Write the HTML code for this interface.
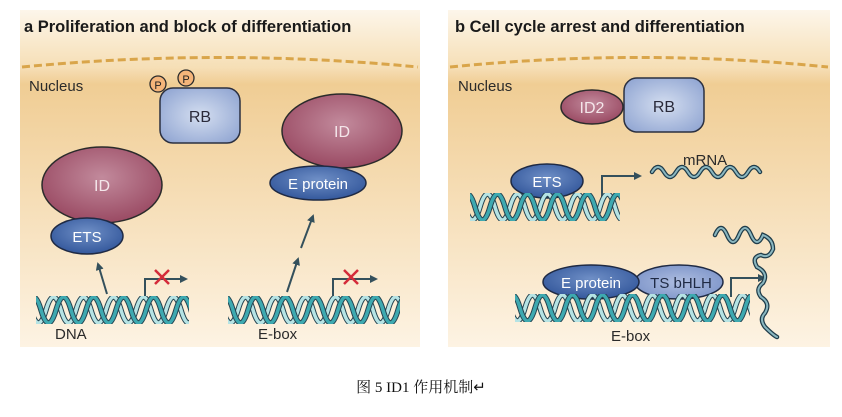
<!DOCTYPE html>
<html><head><meta charset="utf-8"><style>
body{margin:0;background:#fff;width:842px;height:417px;overflow:hidden}
svg{display:block}
.t{font-family:"Liberation Sans",sans-serif}
</style></head><body>
<svg width="842" height="417" viewBox="0 0 842 417" xmlns="http://www.w3.org/2000/svg">
<defs>
<linearGradient id="bg" x1="0" y1="0" x2="0" y2="1">
<stop offset="0" stop-color="#fdf6ea"/><stop offset="0.17" stop-color="#f6dfb6"/><stop offset="0.22" stop-color="#f0cd94"/><stop offset="1" stop-color="#fdf3e3"/>
</linearGradient>
<radialGradient id="id" cx="0.5" cy="0.4" r="0.6"><stop offset="0" stop-color="#c28a9c"/><stop offset="1" stop-color="#9a4a63"/></radialGradient>
<radialGradient id="bl" cx="0.5" cy="0.4" r="0.6"><stop offset="0" stop-color="#6f8fc6"/><stop offset="1" stop-color="#34589c"/></radialGradient>
<radialGradient id="rb" cx="0.5" cy="0.5" r="0.6"><stop offset="0" stop-color="#d4def0"/><stop offset="1" stop-color="#95a9d4"/></radialGradient>
<radialGradient id="ts" cx="0.5" cy="0.5" r="0.6"><stop offset="0" stop-color="#aebde0"/><stop offset="1" stop-color="#7b93c8"/></radialGradient>
<g id="helix">
<path d="M-20,12 q7.5,-26 15,0 t15,0 t15,0 t15,0 t15,0 t15,0 t15,0 t15,0 t15,0 t15,0 t15,0 t15,0 t15,0 t15,0 t15,0 t15,0 t15,0 t15,0" fill="none" stroke="#24424f" stroke-width="5.5"/>
<path d="M-20,12 q7.5,-26 15,0 t15,0 t15,0 t15,0 t15,0 t15,0 t15,0 t15,0 t15,0 t15,0 t15,0 t15,0 t15,0 t15,0 t15,0 t15,0 t15,0 t15,0" fill="none" stroke="#b5e3e4" stroke-width="3.5"/>
<path d="M-10,12 q7.5,-26 15,0 t15,0 t15,0 t15,0 t15,0 t15,0 t15,0 t15,0 t15,0 t15,0 t15,0 t15,0 t15,0 t15,0 t15,0 t15,0 t15,0 t15,0" fill="none" stroke="#24424f" stroke-width="5.5"/>
<path d="M-10,12 q7.5,-26 15,0 t15,0 t15,0 t15,0 t15,0 t15,0 t15,0 t15,0 t15,0 t15,0 t15,0 t15,0 t15,0 t15,0 t15,0 t15,0 t15,0 t15,0" fill="none" stroke="#3ea9b0" stroke-width="3.5"/>
</g>
<clipPath id="c1"><rect x="0" y="-2" width="153" height="28"/></clipPath>
<clipPath id="c2"><rect x="0" y="-2" width="172" height="28"/></clipPath>
<clipPath id="c3"><rect x="0" y="-2" width="150" height="28"/></clipPath>
<clipPath id="c4"><rect x="0" y="-2" width="235" height="28"/></clipPath>
<marker id="ar" markerWidth="8" markerHeight="8" refX="6" refY="4" orient="auto" markerUnits="userSpaceOnUse"><path d="M0,0 L8,4 L0,8 z" fill="#34505c"/></marker>
</defs>
<rect x="20" y="10" width="400" height="337" fill="url(#bg)"/>
<rect x="448" y="10" width="382" height="337" fill="url(#bg)"/>
<path d="M22,67 Q220,48 418,67" fill="none" stroke="#d9a54a" stroke-width="3" stroke-dasharray="8,4"/>
<path d="M450,67 Q640,48 828,67" fill="none" stroke="#d9a54a" stroke-width="3" stroke-dasharray="8,4"/>
<text x="24" y="32" class="t" font-size="16.5" font-weight="bold" fill="#1a1a1a">a  Proliferation and block of differentiation</text>
<text x="455" y="32" class="t" font-size="16.5" font-weight="bold" fill="#1a1a1a">b  Cell cycle arrest and differentiation</text>
<g class="t" font-size="15" fill="#2a2a2a">
<text x="29" y="91">Nucleus</text><text x="458" y="91">Nucleus</text>
<text x="55" y="339">DNA</text><text x="258" y="339">E-box</text><text x="611" y="341">E-box</text>
<text x="683" y="165">mRNA</text>
</g>
<rect x="160" y="88" width="80" height="55" rx="13" fill="url(#rb)" stroke="#2b3040" stroke-width="1.5"/>
<circle cx="158" cy="84" r="8" fill="#f5b57a" stroke="#2b2b2b" stroke-width="1.3"/>
<circle cx="186" cy="78" r="8" fill="#f5b57a" stroke="#2b2b2b" stroke-width="1.3"/>
<text x="158" y="89" class="t" font-size="11" text-anchor="middle" fill="#222">P</text>
<text x="186" y="83" class="t" font-size="11" text-anchor="middle" fill="#222">P</text>
<text x="200" y="122" class="t" font-size="16" text-anchor="middle" fill="#2a2a3a">RB</text>
<ellipse cx="342" cy="131" rx="60" ry="37" fill="url(#id)" stroke="#2b2b2b" stroke-width="1.5"/>
<text x="342" y="137" class="t" font-size="16" text-anchor="middle" fill="#f4e6ea">ID</text>
<ellipse cx="318" cy="183" rx="48" ry="17" fill="url(#bl)" stroke="#1f2a44" stroke-width="1.5"/>
<text x="318" y="189" class="t" font-size="15" text-anchor="middle" fill="#fff">E protein</text>
<ellipse cx="102" cy="185" rx="60" ry="38" fill="url(#id)" stroke="#2b2b2b" stroke-width="1.5"/>
<text x="102" y="191" class="t" font-size="16" text-anchor="middle" fill="#f4e6ea">ID</text>
<ellipse cx="87" cy="236" rx="36" ry="18" fill="url(#bl)" stroke="#1f2a44" stroke-width="1.5"/>
<text x="87" y="242" class="t" font-size="15" text-anchor="middle" fill="#fff">ETS</text>
<g stroke="#34505c" stroke-width="2" fill="none">
<line x1="107" y1="294" x2="98" y2="264" marker-end="url(#ar)"/>
<line x1="287" y1="292" x2="298" y2="259" marker-end="url(#ar)"/>
<line x1="301" y1="248" x2="313" y2="216" marker-end="url(#ar)"/>
<path d="M145,298 V279 H186" marker-end="url(#ar)"/>
<path d="M333,298 V279 H376" marker-end="url(#ar)"/>
<path d="M602,197 V176 H640" marker-end="url(#ar)"/>
<path d="M731,297 V278 H764" marker-end="url(#ar)"/>
</g>
<g stroke="#d42b3a" stroke-width="2.5"><path d="M155,270 l14,14 M169,270 l-14,14"/><path d="M344,270 l14,14 M358,270 l-14,14"/></g>
<use href="#helix" x="36" y="298" clip-path="url(#c1)"/>
<use href="#helix" x="228" y="298" clip-path="url(#c2)"/>
<ellipse cx="592" cy="107" rx="31" ry="17" fill="url(#id)" stroke="#2b2b2b" stroke-width="1.5"/>
<rect x="624" y="78" width="80" height="54" rx="13" fill="url(#rb)" stroke="#2b3040" stroke-width="1.5"/>
<text x="592" y="113" class="t" font-size="16" text-anchor="middle" fill="#f4e6ea">ID2</text>
<text x="664" y="112" class="t" font-size="16" text-anchor="middle" fill="#2a2a3a">RB</text>
<ellipse cx="547" cy="181" rx="36" ry="17" fill="url(#bl)" stroke="#1f2a44" stroke-width="1.5"/>
<text x="547" y="187" class="t" font-size="15" text-anchor="middle" fill="#fff">ETS</text>
<use href="#helix" x="470" y="195" clip-path="url(#c3)"/>
<ellipse cx="679" cy="282" rx="44" ry="17" fill="url(#ts)" stroke="#1f2a44" stroke-width="1.5"/>
<ellipse cx="591" cy="282" rx="48" ry="17" fill="url(#bl)" stroke="#1f2a44" stroke-width="1.5"/>
<text x="591" y="288" class="t" font-size="15" text-anchor="middle" fill="#fff">E protein</text>
<text x="681" y="288" class="t" font-size="15" text-anchor="middle" fill="#1f2a44">TS bHLH</text>
<use href="#helix" x="515" y="296" clip-path="url(#c4)"/>
<g fill="none" stroke-linecap="round">
<path d="M652,172 q6,-10 12,0 t12,0 t12,0 t12,0 t12,0 t12,0 t12,0 t12,0 t12,0" stroke="#1f3c4a" stroke-width="4.5"/>
<path d="M652,172 q6,-10 12,0 t12,0 t12,0 t12,0 t12,0 t12,0 t12,0 t12,0 t12,0" stroke="#8ab7c0" stroke-width="2"/>
<path d="M715,235 q6,-14 12,0 t12,0 t12,0 t12,0 q10,4 10,14 q-4,10 -12,6 q-10,2 -4,12 q12,6 6,16 q-8,6 -2,14 q10,6 4,16 q-6,6 0,14 q8,8 12,10" stroke="#1f3c4a" stroke-width="4.5"/>
<path d="M715,235 q6,-14 12,0 t12,0 t12,0 t12,0 q10,4 10,14 q-4,10 -12,6 q-10,2 -4,12 q12,6 6,16 q-8,6 -2,14 q10,6 4,16 q-6,6 0,14 q8,8 12,10" stroke="#8ab7c0" stroke-width="2"/>
</g>
<text x="421" y="392" font-family="'Liberation Serif','Noto Serif CJK SC',serif" font-size="15" text-anchor="middle" fill="#111">图 5 ID1 作用机制↵</text>
</svg>
</body></html>
